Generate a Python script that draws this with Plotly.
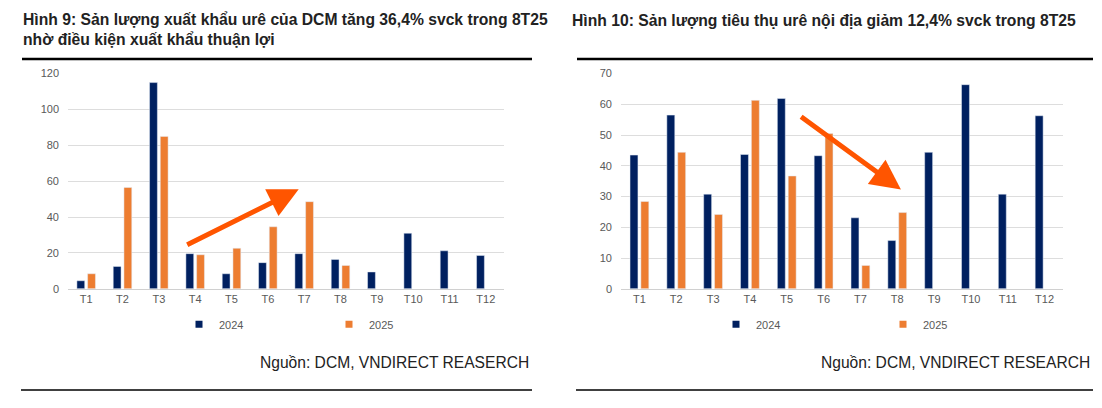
import plotly.graph_objects as go

months = ["T1", "T2", "T3", "T4", "T5", "T6", "T7", "T8", "T9", "T10", "T11", "T12"]
export_2024 = [4.5, 12.5, 115, 19.6, 8.4, 14.6, 19.6, 16.4, 9.4, 31, 21.2, 18.6]
export_2025 = [8.4, 56.5, 85, 19, 22.6, 34.6, 48.6, 13, None, None, None, None]
domestic_2024 = [43.5, 56.5, 30.8, 43.7, 61.9, 43.3, 23.1, 15.7, 44.4, 66.4, 30.8, 56.3]
domestic_2025 = [28.4, 44.4, 24.2, 61.3, 36.7, 50.5, 7.6, 24.8, None, None, None, None]
years = ["2024", "2025"]

title_left = "<b>Hình 9: Sản lượng xuất khẩu urê của DCM tăng 36,4% svck trong 8T25<br>nhờ điều kiện xuất khẩu thuận lợi</b>"
title_right = "<b>Hình 10: Sản lượng tiêu thụ urê nội địa giảm 12,4% svck trong 8T25</b>"
source_left = "Nguồn: DCM, VNDIRECT REASERCH"
source_right = "Nguồn: DCM, VNDIRECT RESEARCH"

NAVY = "#002060"
ORANGE = "#ED7D31"
ARROW = "#FF5500"
# The page body has an 8px margin; size the figure so the page fits the 1102x408 window exactly.
OFF = 8
FW, FH = 1102 - 2 * OFF, 408 - 2 * OFF
FONT = "Liberation Sans, Arial, sans-serif"


def px(x):
    return (x - OFF) / FW


def py(y):
    return 1 - (y - OFF) / FH


fig = go.Figure()

fig.add_trace(go.Bar(x=months, y=export_2024, marker_color=NAVY, xaxis="x", yaxis="y", showlegend=False, name="2024"))
fig.add_trace(go.Bar(x=months, y=export_2025, marker_color=ORANGE, xaxis="x", yaxis="y", showlegend=False, name="2025"))
fig.add_trace(go.Bar(x=months, y=domestic_2024, marker_color=NAVY, xaxis="x2", yaxis="y2", showlegend=False, name="2024"))
fig.add_trace(go.Bar(x=months, y=domestic_2025, marker_color=ORANGE, xaxis="x2", yaxis="y2", showlegend=False, name="2025"))

# Legend entries with small square symbols
for leg, xa, ya in (("legend", "x", "y"), ("legend2", "x2", "y2")):
    for yr, col in zip(years, [NAVY, ORANGE]):
        fig.add_trace(go.Scatter(x=[None], y=[None], mode="markers", name=yr,
                                 marker=dict(symbol="square", size=7, color=col),
                                 xaxis=xa, yaxis=ya, legend=leg, showlegend=True))

tickfont = dict(size=11, color="#595959", family=FONT)
xcommon = dict(type="category", showgrid=False, showline=True, linecolor="#D0D0D0", linewidth=1,
               zeroline=False, ticks="", tickfont=tickfont, fixedrange=True)
ycommon = dict(showgrid=True, gridcolor="#DDDDDD", gridwidth=1, showline=False, zeroline=False,
               ticks="", tickfont=tickfont, ticklabelstandoff=8, fixedrange=True)

legfont = dict(size=11, color="#595959", family=FONT)
fig.update_layout(
    width=FW, height=FH, autosize=False,
    margin=dict(l=0, r=0, t=0, b=0),
    paper_bgcolor="white", plot_bgcolor="white",
    barmode="group", bargap=0.41, bargroupgap=0.27,
    font=dict(family=FONT),
    xaxis=dict(domain=[px(68), px(504)], anchor="y", **xcommon),
    yaxis=dict(domain=[py(291.5), py(69.5)], anchor="x", range=[0, 120], dtick=20, **ycommon),
    xaxis2=dict(domain=[px(621), px(1063)], anchor="y2", **xcommon),
    yaxis2=dict(domain=[py(291.5), py(69.5)], anchor="x2", range=[0, 70], dtick=10, **ycommon),
    legend=dict(orientation="h", x=px(179), xanchor="left", y=py(328), yanchor="middle",
                entrywidth=105, entrywidthmode="pixels", font=legfont,
                bgcolor="rgba(0,0,0,0)", itemclick=False),
    legend2=dict(orientation="h", x=px(716), xanchor="left", y=py(328), yanchor="middle",
                 entrywidth=122, entrywidthmode="pixels", font=legfont,
                 bgcolor="rgba(0,0,0,0)", itemclick=False),
)

title_font = dict(size=15.7, color="#222222", family=FONT)
fig.add_annotation(text=title_left, xref="paper", yref="paper", x=px(21), y=py(24.5),
                   xanchor="left", yanchor="middle", align="left", showarrow=False, font=title_font)
fig.add_annotation(text=title_right, xref="paper", yref="paper", x=px(570), y=py(15),
                   xanchor="left", yanchor="middle", align="left", showarrow=False, font=title_font)
src_font = dict(size=15.6, color="#222222", family=FONT)
fig.add_annotation(text=source_left, xref="paper", yref="paper", x=px(531), y=py(367),
                   xanchor="right", yanchor="middle", showarrow=False, font=src_font)
fig.add_annotation(text=source_right, xref="paper", yref="paper", x=px(1092), y=py(367),
                   xanchor="right", yanchor="middle", showarrow=False, font=src_font)

# Trend arrows
fig.add_annotation(x=5.85, y=55.5, ax=2.74, ay=24.2, xref="x", yref="y", axref="x", ayref="y",
                   text="", showarrow=True, arrowhead=2, arrowsize=1.2, arrowwidth=5, arrowcolor=ARROW, standoff=0)
fig.add_annotation(x=7.1, y=32.3, ax=4.35, ay=56.3, xref="x2", yref="y2", axref="x2", ayref="y2",
                   text="", showarrow=True, arrowhead=2, arrowsize=1.2, arrowwidth=5, arrowcolor=ARROW, standoff=0)

# Horizontal rules
shapes = []
for x0, x1 in ((22, 532), (577, 1093)):
    shapes.append(dict(type="line", xref="paper", yref="paper", x0=px(x0), x1=px(x1), y0=py(54.5), y1=py(54.5),
                       line=dict(color="black", width=2.5)))
    shapes.append(dict(type="line", xref="paper", yref="paper", x0=px(x0 - 1), x1=px(x1), y0=py(396), y1=py(396),
                       line=dict(color="black", width=1.5)))
fig.update_layout(shapes=shapes)

fig.write_html("out.html")
